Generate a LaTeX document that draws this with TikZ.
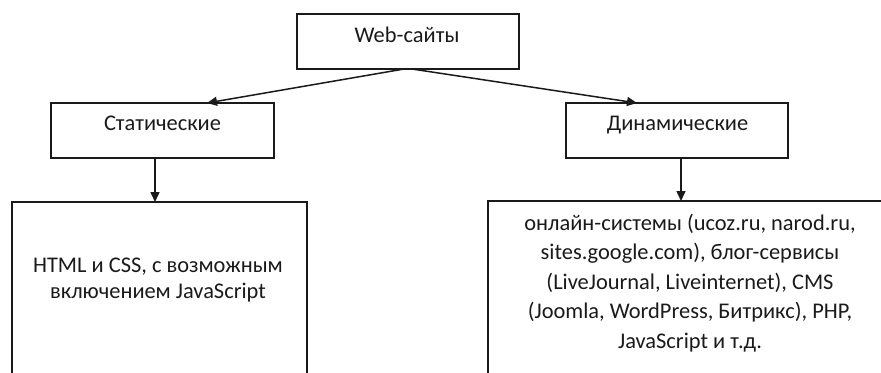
\documentclass[tikz,border=0pt]{standalone}
\usepackage{fontspec}
\setmainfont{Carlito}
\usetikzlibrary{arrows.meta}
\definecolor{ink}{HTML}{1A1A1A}
\begin{document}
\begin{tikzpicture}[x=1bp,y=-1bp,
  box/.style={draw=ink,line width=1.5bp,inner sep=0pt,outer sep=0pt},
  txt/.style={text=ink,font=\fontsize{22.5}{26.7}\selectfont,align=center,inner sep=0pt},
  txtr/.style={text=ink,font=\fontsize{22.5}{29.5}\selectfont,align=center,inner sep=0pt},
  arr/.style={draw=ink,line width=1.5bp,-{Triangle[length=10bp,width=9bp]}}]
\useasboundingbox (0,0) rectangle (881,372);
\clip (0,0) rectangle (881,372);
% boxes
\node[box,minimum width=222bp,minimum height=55bp] (web) at (408,41.5) {};
\node[box,minimum width=223bp,minimum height=55bp] (stat) at (162.5,130.5) {};
\node[box,minimum width=222bp,minimum height=55bp] (dyn) at (677,130.5) {};
\node[box,minimum width=295bp,minimum height=198bp] (lbox) at (159.5,301) {};
\node[box,minimum width=432bp,minimum height=199bp] (rbox) at (704,300.5) {};
% texts
\node[txt,anchor=base] (webt) at (407,42) {Web-сайты};
\node[txt,anchor=base] (statt) at (162.5,130) {Статические};
\node[txt,anchor=base] (dynt) at (677.5,130) {Динамические};
\node[txt] (lt) at (158,280) {HTML и CSS, с возможным\\включением JavaScript};
\node[txtr] (rt) at (690,283) {онлайн-системы (ucoz.ru, narod.ru,\\sites.google.com), блог-сервисы\\(LiveJournal, Liveinternet), CMS\\(Joomla, WordPress, Битрикс), PHP,\\JavaScript и т.д.};
% connector ends
\coordinate (wl) at (404,69);
\coordinate (wr) at (412,69);
\coordinate (sl) at (207,103);
\coordinate (dr) at (637,103);
\coordinate (sb) at (155,158);
\coordinate (lt1) at (155,202);
\coordinate (db) at (681,158);
\coordinate (rt1) at (681,201);
\draw[arr] (wl) -- (sl);
\draw[arr] (wr) -- (dr);
\draw[arr] (sb) -- (lt1);
\draw[arr] (db) -- (rt1);
\end{tikzpicture}
\end{document}
